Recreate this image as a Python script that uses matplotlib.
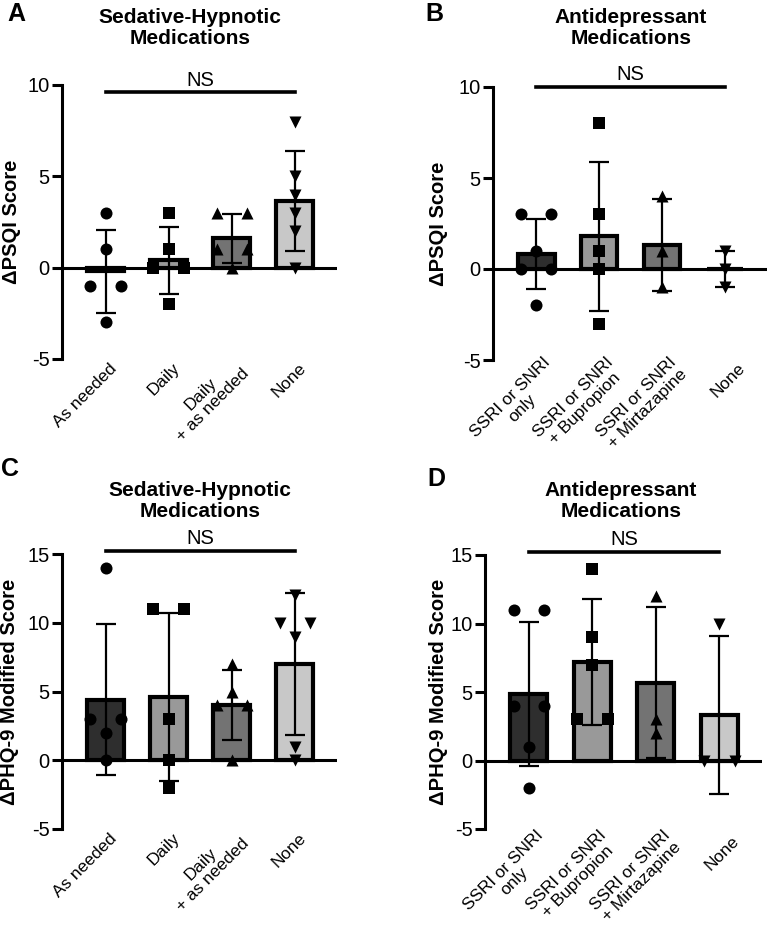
#!/usr/bin/env python3
"""
Change in PSQI / PHQ-9 scores by medication group (bar + scatter, GraphPad style)
"""
import numpy as np
import matplotlib
matplotlib.use('Agg')
import matplotlib.pyplot as plt
from matplotlib import transforms

plt.rcParams['font.family'] = ['Liberation Sans', 'DejaVu Sans']
plt.rcParams['axes.unicode_minus'] = False

sed_groups = ['As needed', 'Daily', 'Daily\n+ as needed', 'None']
ad_groups = ['SSRI or SNRI\nonly', 'SSRI or SNRI\n+ Bupropion',
             'SSRI or SNRI\n+ Mirtazapine', 'None']

# individual patient changes
psqi_sed = [[3, 1, -1, -1, -3], [3, 1, 0, 0, -2], [3, 3, 1, 1, 0], [8, 5, 4, 3, 2, 0]]
psqi_ad = [[3, 3, 1, 0, 0, -2], [8, 3, 1, 0, -3], [4, 1, -1], [1, 0, -1]]
phq_sed = [[14, 3, 3, 2, 0], [11, 11, 3, 0, -2], [7, 5, 4, 4, 0], [12, 10, 10, 9, 1, 0]]
phq_ad = [[11, 11, 4, 4, 1, -2], [14, 9, 7, 3, 3], [12, 3, 2], [10, 0, 0]]

bar_colors = ['#2e2e2e', '#999999', '#737373', '#c8c8c8']
markers = ['o', 's', '^', 'v']


def spread(vals, step=0.24):
  """x offsets: equal values are put side by side."""
  vals = np.asarray(vals)
  off = np.zeros(len(vals))
  for v in np.unique(vals):
    idx = np.where(vals == v)[0]
    n = len(idx)
    if n > 1:
      off[idx] = (np.arange(n) - (n - 1) / 2.) * 2 * step / (n - 1)
  return off


def panel(ax, groups, data, ylim, yticks, ylabel, ns_y, lab_dx, lab_dy):
  x = np.arange(len(groups))
  means = np.array([np.mean(d) for d in data])
  sds = np.array([np.std(d, ddof=1) for d in data])
  ax.bar(x, means, width=0.58, color=bar_colors, edgecolor='none', zorder=1)
  for i, d in enumerate(data):
    ax.scatter(i + spread(d), d, marker=markers[i], s=75, color='black',
               linewidths=0, zorder=2, clip_on=False)
  ax.bar(x, means, width=0.58, color='none', edgecolor='black', linewidth=3, zorder=3)
  ax.errorbar(x, means, yerr=sds, fmt='none', ecolor='black', elinewidth=1.6,
              capsize=7, capthick=1.6, zorder=4)
  ax.axhline(0, color='black', lw=2.2, zorder=3)

  ax.set_xlim(-0.69, 3.67)
  ax.set_ylim(*ylim)
  ax.set_yticks(yticks)
  ax.set_xticks([])
  for s in ['top', 'right', 'bottom']:
    ax.spines[s].set_visible(False)
  ax.spines['left'].set_linewidth(2.2)
  ax.tick_params(axis='y', length=7, width=2.2, labelsize=14.5, pad=2)
  ax.set_ylabel(ylabel, fontsize=14.5, fontweight='bold')

  # rotated category labels below the axis
  trans = transforms.offset_copy(ax.transData, fig=ax.figure, x=lab_dx, y=lab_dy, units='points')
  for i, g in enumerate(groups):
    ax.text(i, ylim[0], g, transform=trans, rotation=45, ha='right', va='center',
            rotation_mode='anchor', multialignment='center', fontsize=12.4,
            linespacing=1.05)

  # significance bar
  ax.plot([0, 3], [ns_y, ns_y], color='black', lw=2.6, clip_on=False)
  ax.text(1.5, ns_y, 'NS', ha='center', va='bottom', fontsize=14.5,
          transform=transforms.offset_copy(ax.transData, fig=ax.figure, y=2, units='points'))


fig = plt.figure(figsize=(7.71, 9.25), dpi=100)
W, H = 771., 925.
axA = fig.add_axes([62 / W, 1 - 359 / H, 275 / W, 274 / H])
axB = fig.add_axes([493 / W, 1 - 360 / H, 274 / W, 273 / H])
axC = fig.add_axes([62 / W, 1 - 829 / H, 275 / W, 275 / H])
axD = fig.add_axes([485 / W, 1 - 829 / H, 277 / W, 274 / H])

panel(axA, sed_groups, psqi_sed, (-5, 10), [-5, 0, 5, 10], '\u0394PSQI Score', 9.6, 6.5, -5)
panel(axB, ad_groups, psqi_ad, (-5, 10), [-5, 0, 5, 10], '\u0394PSQI Score', 10.0, 12.5, -4)
panel(axC, sed_groups, phq_sed, (-5, 15), [-5, 0, 5, 10, 15], '\u0394PHQ-9 Modified Score', 15.2, 6.5, -5)
panel(axD, ad_groups, phq_ad, (-5, 15), [-5, 0, 5, 10, 15], '\u0394PHQ-9 Modified Score', 15.2, 12.5, -7)
# label coords give the right-hand edge of the rotated y labels
axA.yaxis.set_label_coords(-0.15, 0.5)
axB.yaxis.set_label_coords(-0.164, 0.5)
axC.yaxis.set_label_coords(-0.158, 0.5)
axD.yaxis.set_label_coords(-0.134, 0.5)

title_kw = dict(ha='center', va='center', fontsize=15, fontweight='bold', linespacing=1.15)
fig.text(190 / W, 1 - 28 / H, 'Sedative-Hypnotic\nMedications', **title_kw)
fig.text(631 / W, 1 - 28 / H, 'Antidepressant\nMedications', **title_kw)
fig.text(200 / W, 1 - 501 / H, 'Sedative-Hypnotic\nMedications', **title_kw)
fig.text(621 / W, 1 - 501 / H, 'Antidepressant\nMedications', **title_kw)

letter_kw = dict(ha='center', va='center', fontsize=18, fontweight='bold')
fig.text(16 / W, 1 - 14 / H, 'A', **letter_kw)
fig.text(434 / W, 1 - 14 / H, 'B', **letter_kw)
fig.text(10 / W, 1 - 469 / H, 'C', **letter_kw)
fig.text(436 / W, 1 - 479 / H, 'D', **letter_kw)

fig.savefig('out.png', dpi=100)
